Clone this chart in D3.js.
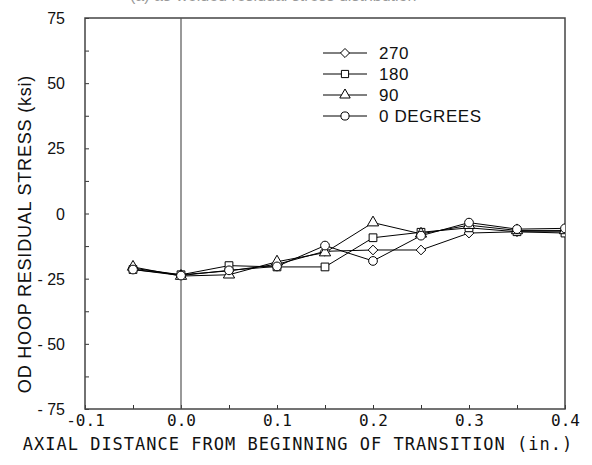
<!DOCTYPE html>
<html>
<head>
<meta charset="utf-8">
<script src="https://cdn.jsdelivr.net/npm/d3@7"></script>
<style>
  body { margin: 0; background: #fff; }
  svg { display: block; }
</style>
</head>
<body>
<div id="chart"></div>
<script>
// data
var distance = [-0.05, 0, 0.05, 0.1, 0.15, 0.2, 0.25, 0.3, 0.35, 0.4];
var deg270 = [-21, -23.5, -22, -19.5, -14.5, -14, -14, -7.5, -7, -7];
var deg180 = [-21.5, -23.5, -20, -20.5, -20.5, -9.3, -7.2, -5.5, -7, -7.5];
var deg90 = [-20.5, -24, -23.5, -18.5, -15, -3.5, -7.8, -4.5, -6.5, -6.5];
var deg0 = [-21.5, -23.8, -21.8, -20.3, -12.3, -18.2, -8.5, -3.5, -6, -5.7];
var seriesNames = ["270", "180", "90", "0 DEGREES"];
var xTickLabels = ["-0.1", "0.0", "0.1", "0.2", "0.3", "0.4"];
var yTickLabels = ["-75", "-50", "-25", "0", "25", "50", "75"];

var width = 592, height = 465;
var margin = {left: 85, right: 27, top: 18, bottom: 56};

var svg = d3.select('#chart').append('svg')
  .attr('width', width)
  .attr('height', height);

var x = d3.scaleLinear().domain([-0.1, 0.4]).range([margin.left, width - margin.right]);
var y = d3.scaleLinear().domain([-75, 75]).range([height - margin.bottom, margin.top]);

// title, mostly cut off at the top edge like in the scan
svg.append('text')
  .attr('x', 130)
  .attr('y', 1)
  .attr('fill', '#999')
  .style('font-family', 'Liberation Sans, Arial, sans-serif')
  .style('font-size', '16px')
  .text('(a) as-welded residual stress distribution');

svg.append('defs').append('clipPath').attr('id', 'plot-clip')
  .append('rect')
  .attr('x', x(-0.1)).attr('y', y(75))
  .attr('width', x(0.4) - x(-0.1)).attr('height', y(-75) - y(75));

// y axis ticks (inside)
var yAxis = d3.axisLeft(y)
  .tickValues(d3.range(-75, 75.1, 12.5))
  .tickSize(-4)
  .tickFormat(function(d) {
    var i = yTickLabels.indexOf(String(d));
    return i >= 0 ? (d < 0 ? '- ' + Math.abs(d) : yTickLabels[i]) : '';
  });
var gy = svg.append('g').attr('transform', 'translate(' + x(-0.1) + ',0)').call(yAxis);
gy.select('.domain').remove();
gy.selectAll('.tick line').attr('stroke', '#333');
gy.selectAll('.tick text')
  .attr('x', -20)
  .attr('dy', '0.35em')
  .attr('fill', '#111')
  .style('font-family', 'Liberation Sans, Arial, sans-serif')
  .style('font-size', '16px');

// x axis ticks (inside)
var xAxis = d3.axisBottom(x)
  .tickValues(d3.range(-0.1, 0.4001, 0.05).map(function(d) { return Math.round(d * 100) / 100; }))
  .tickSize(-4)
  .tickFormat(function(d) {
    var lbl = d.toFixed(1);
    if (lbl === '-0.0') lbl = '0.0';
    return Math.abs(d * 10 - Math.round(d * 10)) < 1e-6 && xTickLabels.indexOf(lbl) >= 0 ? lbl : '';
  });
var gx = svg.append('g').attr('transform', 'translate(0,' + y(-75) + ')').call(xAxis);
gx.select('.domain').remove();
gx.selectAll('.tick line').attr('stroke', '#333');
gx.selectAll('.tick text')
  .attr('y', 3)
  .attr('dy', '0.9em')
  .attr('fill', '#111')
  .style('font-family', 'DejaVu Sans Mono, monospace')
  .style('font-size', '16px');

// frame
svg.append('rect')
  .attr('x', x(-0.1)).attr('y', y(75))
  .attr('width', x(0.4) - x(-0.1)).attr('height', y(-75) - y(75))
  .attr('fill', 'none').attr('stroke', '#444').attr('stroke-width', 1.5);

// vertical line at zero
svg.append('line')
  .attr('x1', x(0)).attr('x2', x(0))
  .attr('y1', y(75)).attr('y2', y(-75))
  .attr('stroke', '#555').attr('stroke-width', 1.2);

var series = [
  {name: seriesNames[0], values: deg270, symbol: d3.symbolDiamond2, size: 60},
  {name: seriesNames[1], values: deg180, symbol: d3.symbolSquare, size: 60},
  {name: seriesNames[2], values: deg90, symbol: d3.symbolTriangle, size: 55},
  {name: seriesNames[3], values: deg0, symbol: d3.symbolCircle, size: 60}
];

var line = d3.line()
  .x(function(d, i) { return x(distance[i]); })
  .y(function(d) { return y(d); });

var plot = svg.append('g').attr('clip-path', 'url(#plot-clip)');

series.forEach(function(s) {
  plot.append('path')
    .datum(s.values)
    .attr('d', line)
    .attr('fill', 'none')
    .attr('stroke', '#000')
    .attr('stroke-width', 1);
});

series.forEach(function(s) {
  plot.selectAll(null)
    .data(s.values)
    .enter()
    .append('path')
    .attr('d', d3.symbol().type(s.symbol).size(s.size))
    .attr('transform', function(d, i) { return 'translate(' + x(distance[i]) + ',' + y(d) + ')'; })
    .attr('fill', '#fff')
    .attr('stroke', '#000')
    .attr('stroke-width', 1);
});

// legend
var legend = svg.append('g').attr('transform', 'translate(323,53)');
series.forEach(function(s, i) {
  var row = legend.append('g').attr('transform', 'translate(0,' + (i * 21) + ')');
  row.append('line').attr('x1', 0).attr('x2', 44).attr('y1', 0).attr('y2', 0)
    .attr('stroke', '#000').attr('stroke-width', 1);
  row.append('path')
    .attr('d', d3.symbol().type(s.symbol).size(s.size - 8))
    .attr('transform', 'translate(22,0)')
    .attr('fill', '#fff').attr('stroke', '#000');
  row.append('text')
    .attr('x', 56).attr('y', 0).attr('dy', '0.36em')
    .attr('fill', '#111')
    .style('font-family', 'Liberation Sans, Arial, sans-serif')
    .style('font-size', '17px')
    .style('letter-spacing', '0.6px')
    .text(s.name);
});

// axis titles
svg.append('text')
  .attr('x', 298).attr('y', 450)
  .attr('text-anchor', 'middle')
  .attr('fill', '#111')
  .style('font-family', 'DejaVu Sans Mono, monospace')
  .style('font-size', '17px')
  .style('letter-spacing', '1px')
  .text('AXIAL DISTANCE FROM BEGINNING OF TRANSITION (in.)');

svg.append('text')
  .attr('transform', 'translate(31,234) rotate(-90)')
  .attr('text-anchor', 'middle')
  .attr('fill', '#111')
  .style('font-family', 'Liberation Sans, Arial, sans-serif')
  .style('font-size', '18px')
  .style('letter-spacing', '0.8px')
  .text('OD HOOP RESIDUAL STRESS (ksi)');
</script>
</body>
</html>
